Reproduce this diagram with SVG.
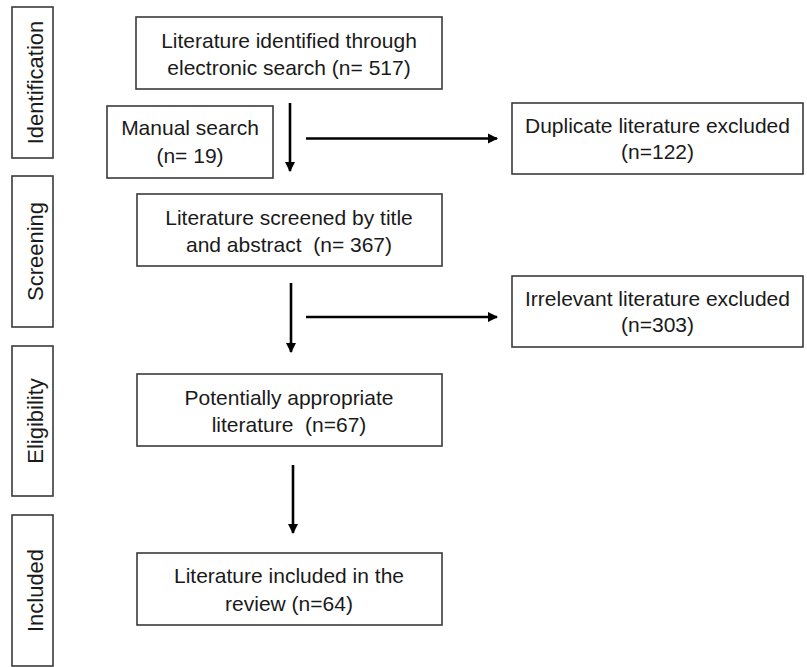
<svg xmlns="http://www.w3.org/2000/svg" width="807" height="667" viewBox="0 0 807 667">
<defs>
<style>
.box{fill:#fff;stroke:#3a3a3a;stroke-width:1.6}
.t{font-family:"Liberation Sans",Arial,sans-serif;font-size:21px;fill:#1a1a1a;text-anchor:middle;white-space:pre}
.s{font-size:22px}
.c{stroke:#000;stroke-width:2.6;fill:none;marker-end:url(#ah)}
</style>
<marker id="ah" viewBox="0 0 10 10" refX="9" refY="5" markerWidth="4" markerHeight="4" orient="auto" markerUnits="strokeWidth">
<path d="M0,0 L10,5 L0,10 Z" fill="#000"/>
</marker>
</defs>
<rect width="807" height="667" fill="#fff"/>
<g id="stage-identification">
<rect class="box" x="12" y="7" width="41" height="151"/>
<text class="t s" transform="translate(43,82.5) rotate(-90)">Identification</text>
</g>
<g id="stage-screening">
<rect class="box" x="12" y="176" width="41" height="151"/>
<text class="t s" transform="translate(43,251.5) rotate(-90)">Screening</text>
</g>
<g id="stage-eligibility">
<rect class="box" x="12" y="346" width="41" height="150"/>
<text class="t s" transform="translate(43,421) rotate(-90)">Eligibility</text>
</g>
<g id="stage-included">
<rect class="box" x="12" y="515" width="41" height="151"/>
<text class="t s" transform="translate(43,590.5) rotate(-90)">Included</text>
</g>
<g id="identified">
<rect class="box" x="136" y="17" width="306" height="72"/>
<text class="t" x="289" y="48">Literature identified through</text>
<text class="t" x="289" y="75">electronic search (n= 517)</text>
</g>
<g id="manual">
<rect class="box" x="107" y="106" width="166" height="72"/>
<text class="t" x="190" y="135">Manual search</text>
<text class="t" x="190" y="163">(n= 19)</text>
</g>
<g id="duplicate">
<rect class="box" x="512" y="103" width="291" height="71"/>
<text class="t" x="657.5" y="133">Duplicate literature excluded</text>
<text class="t" x="657.5" y="159">(n=122)</text>
</g>
<g id="screened">
<rect class="box" x="137" y="194" width="305" height="72"/>
<text class="t" x="289" y="225">Literature screened by title</text>
<text class="t" x="289" y="252">and abstract  (n= 367)</text>
</g>
<g id="irrelevant">
<rect class="box" x="512" y="276" width="291" height="71"/>
<text class="t" x="657.5" y="306">Irrelevant literature excluded</text>
<text class="t" x="657.5" y="332">(n=303)</text>
</g>
<g id="eligible">
<rect class="box" x="137" y="374" width="305" height="72"/>
<text class="t" x="289" y="405">Potentially appropriate</text>
<text class="t" x="289" y="432">literature  (n=67)</text>
</g>
<g id="included">
<rect class="box" x="137" y="553" width="305" height="72"/>
<text class="t" x="289" y="583">Literature included in the</text>
<text class="t" x="289" y="611">review (n=64)</text>
</g>
<g id="connectors">
<line class="c" x1="290" y1="103" x2="290" y2="171"/>
<line class="c" x1="306" y1="138.5" x2="497" y2="138.5"/>
<line class="c" x1="291" y1="283" x2="291" y2="352"/>
<line class="c" x1="306" y1="317" x2="497" y2="317"/>
<line class="c" x1="293" y1="465" x2="293" y2="533"/>
</g>
</svg>
